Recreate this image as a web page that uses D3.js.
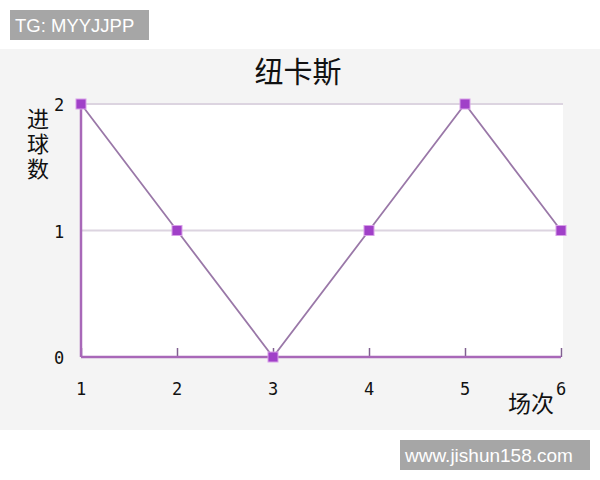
<!DOCTYPE html>
<html><head><meta charset="utf-8">
<script src="https://cdn.jsdelivr.net/npm/d3@7"></script>
<style>html,body{margin:0;padding:0;background:#fff;}svg{display:block;}</style>
</head><body>
<script>
const matches = [1, 2, 3, 4, 5, 6];
const goals = [2, 1, 0, 1, 2, 1];
const yTicks = [0, 1, 2];
const title = "纽卡斯";
const yLabel = "进球数";
const xLabel = "场次";

const W = 600, H = 480;
const svg = d3.select("body").append("svg").attr("width", W).attr("height", H);

// chart background
svg.append("rect").attr("x", 0).attr("y", 49).attr("width", W).attr("height", 381).attr("fill", "#f4f4f4");

const x = d3.scaleLinear().domain([1, 6]).range([81, 561]);
const y = d3.scaleLinear().domain([0, 2]).range([357, 104]);

// plot area
svg.append("rect").attr("x", x(1)).attr("y", y(2)).attr("width", x(6) - x(1) + 2).attr("height", y(0) - y(2)).attr("fill", "#ffffff");

// grid
svg.append("g").selectAll("line").data(yTicks.filter(d => d > 0)).join("line")
  .attr("x1", x(1)).attr("x2", x(6) + 2).attr("y1", d => y(d)).attr("y2", d => y(d))
  .attr("stroke", "#dcd4e0").attr("stroke-width", 2);

// x axis
const xAxis = d3.axisBottom(x).tickValues(matches).tickSize(-9).tickFormat("");
const gx = svg.append("g").attr("transform", `translate(0,${y(0)})`).call(xAxis);
gx.select(".domain").remove();
gx.selectAll(".tick line").attr("stroke", "#806090").attr("stroke-width", 1.5);
svg.append("line").attr("x1", x(1)).attr("x2", x(6)).attr("y1", y(0)).attr("y2", y(0))
  .attr("stroke", "#a868b8").attr("stroke-width", 2.5);
svg.append("line").attr("x1", x(1)).attr("x2", x(1)).attr("y1", y(2)).attr("y2", y(0))
  .attr("stroke", "#a868b8").attr("stroke-width", 2.5);

// tick labels
svg.append("g").selectAll("text").data(matches).join("text")
  .attr("x", d => x(d)).attr("y", 395).attr("text-anchor", "middle")
  .attr("font-family", "DejaVu Sans Mono").attr("font-size", 17).attr("fill", "#111")
  .text(d => d);
svg.append("g").selectAll("text").data(yTicks).join("text")
  .attr("x", 59).attr("y", d => y(d) + 7).attr("text-anchor", "middle")
  .attr("font-family", "DejaVu Sans Mono").attr("font-size", 17).attr("fill", "#111")
  .text(d => d);

// line
svg.append("path").datum(matches.map((m, i) => [m, goals[i]]))
  .attr("d", d3.line().x(d => x(d[0])).y(d => y(d[1])))
  .attr("fill", "none").attr("stroke", "#9a78a8").attr("stroke-width", 1.8);

// markers
svg.append("g").selectAll("rect").data(matches.map((m, i) => [m, goals[i]])).join("rect")
  .attr("x", d => x(d[0]) - 5).attr("y", d => y(d[1]) - 5).attr("width", 10).attr("height", 10)
  .attr("fill", "#a040c8").attr("stroke", "#d8a0e8").attr("stroke-width", 1);

// title
svg.append("text").attr("x", 298).attr("y", 83).attr("text-anchor", "middle")
  .attr("font-family", "Noto Sans CJK SC").attr("font-size", 29).attr("fill", "#111").text(title);

// y label (vertical, one text)
svg.append("text").attr("x", 38).attr("y", 108)
  .attr("writing-mode", "vertical-rl").attr("text-anchor", "start")
  .attr("letter-spacing", 3)
  .attr("font-family", "Noto Sans CJK SC").attr("font-size", 22).attr("fill", "#111").text(yLabel);

// x label
svg.append("text").attr("x", 531).attr("y", 412).attr("text-anchor", "middle")
  .attr("font-family", "Noto Sans CJK SC").attr("font-size", 23).attr("fill", "#111").text(xLabel);

// watermark boxes
svg.append("rect").attr("x", 10).attr("y", 10).attr("width", 139).attr("height", 30).attr("fill", "#a6a6a6");
svg.append("text").attr("x", 15).attr("y", 32).attr("font-family", "Liberation Sans").attr("font-size", 18.5)
  .attr("fill", "#fff").text("TG: MYYJJPP");
svg.append("rect").attr("x", 400).attr("y", 440).attr("width", 190).attr("height", 30).attr("fill", "#a6a6a6");
svg.append("text").attr("x", 405).attr("y", 462).attr("font-family", "Liberation Sans").attr("font-size", 19)
  .attr("fill", "#fff").text("www.jishun158.com");
</script>
</body></html>
